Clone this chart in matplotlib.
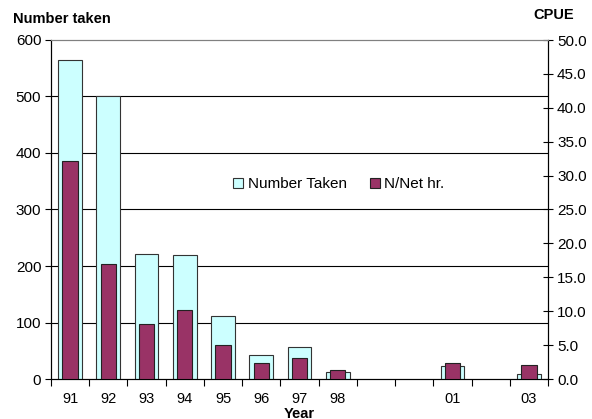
import numpy as np
import matplotlib
matplotlib.use("Agg")
import matplotlib.pyplot as plt
from matplotlib.patches import Patch

plt.rcParams['font.family'] = ['Liberation Sans', 'DejaVu Sans']

years = ['91', '92', '93', '94', '95', '96', '97', '98', '99', '00', '01', '02', '03']
year_labels = ['91', '92', '93', '94', '95', '96', '97', '98', '', '', '01', '', '03']
number_taken = [565, 501, 222, 220, 111, 43, 57, 13, np.nan, np.nan, 23, np.nan, 8]
cpue = [32.2, 16.9, 8.1, 10.2, 5.0, 2.4, 3.1, 1.3, np.nan, np.nan, 2.3, np.nan, 2.1]

light = '#CCFFFF'
mag = '#993366'
fs = 11

fig = plt.figure(figsize=(5.92, 4.19), dpi=100)
ax = fig.add_axes([51/592, 1-379/419, (548-51)/592, (379-40)/419])
x = np.arange(len(years))

ax.bar(x, number_taken, width=0.62, color=light, edgecolor='#333333', linewidth=0.8, zorder=3)
ax.set_xlim(-0.5, len(years) - 0.5)
ax.set_ylim(0, 600)
ax.set_yticks(np.arange(0, 601, 100))
for v in range(100, 600, 100):
    ax.axhline(v, color='black', linewidth=0.8, zorder=1)

ax2 = ax.twinx()
ax2.bar(x, cpue, width=0.40, color=mag, edgecolor='#222222', linewidth=0.8, zorder=3)
ax2.set_ylim(0, 50)
ax2.set_yticks(np.arange(0, 50.1, 5))
ax2.set_yticklabels([f'{v:.1f}' for v in np.arange(0, 50.1, 5)])
ax2.set_xlim(-0.5, len(years) - 0.5)

ax.set_xticks(x)
ax.set_xticklabels(year_labels)
ax.set_xticks(np.arange(-0.5, len(years), 1), minor=True)
ax.tick_params(axis='x', which='major', length=0, pad=9.5, labelsize=10.5)
ax.tick_params(axis='x', which='minor', length=5, width=0.8, direction='out')
ax.tick_params(axis='y', length=4, width=0.8, direction='out', pad=3, labelsize=fs)
ax2.tick_params(axis='y', length=7, width=0.8, direction='inout', pad=3, labelsize=fs)

for a in (ax, ax2):
    a.spines['top'].set_color('#808080')
    a.spines['top'].set_linewidth(0.8)
    for s in ('left', 'right', 'bottom'):
        a.spines[s].set_color('black')
        a.spines[s].set_linewidth(0.8)

fig.text(62/592, 1-19/419, 'Number taken', ha='center', va='center', fontsize=10.5, fontweight='bold')
fig.text(554/592, 1-15/419, 'CPUE', ha='center', va='center', fontsize=10.5, fontweight='bold')
fig.text(299/592, 1-417.5/419, 'Year', ha='center', va='baseline', fontsize=10.5, fontweight='bold')

handles = [Patch(facecolor=light, edgecolor='#333333', linewidth=0.8),
           Patch(facecolor=mag, edgecolor='#222222', linewidth=0.8)]
fig.legend(handles, ['Number Taken', 'N/Net hr.'], loc='center',
           bbox_to_anchor=(339/592, 1-184/419), ncol=2, frameon=False,
           fontsize=fs, handlelength=0.65, handleheight=0.65,
           handletextpad=0.3, columnspacing=1.5, borderpad=0)

fig.savefig('out.png', dpi=100)
